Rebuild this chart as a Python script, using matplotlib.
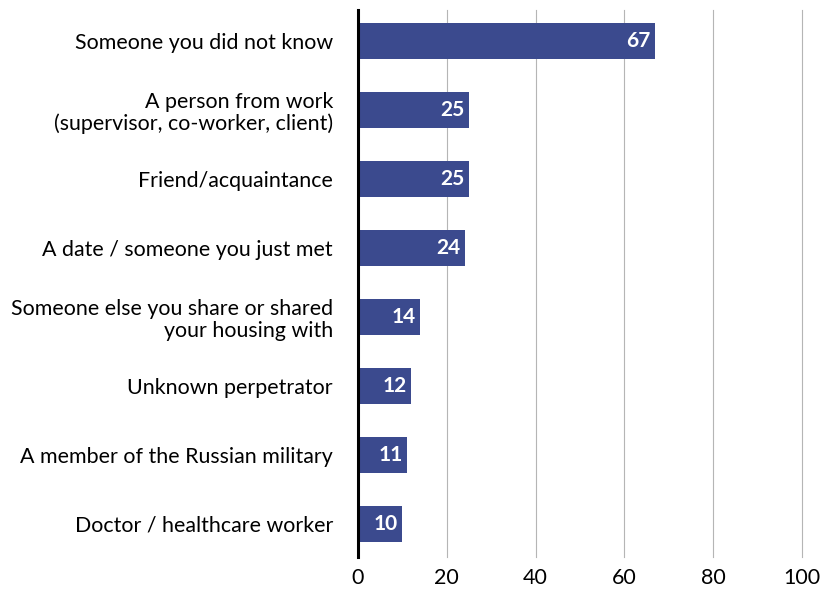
import numpy as np
import matplotlib.pyplot as plt

plt.rcParams['font.family'] = ['Lato', 'DejaVu Sans']

categories = [
    'Someone you did not know',
    'A person from work\n(supervisor, co-worker, client)',
    'Friend/acquaintance',
    'A date / someone you just met',
    'Someone else you share or shared\nyour housing with',
    'Unknown perpetrator',
    'A member of the Russian military',
    'Doctor / healthcare worker',
]
values = [67, 25, 25, 24, 14, 12, 11, 10]
x_ticks = [0, 20, 40, 60, 80, 100]

bar_color = '#3b4a8e'

fig = plt.figure(figsize=(8.22, 5.91), dpi=100)
ax = fig.add_axes([0.4355, 0.0575, 0.540, 0.9255])

y = np.arange(len(categories))
ax.barh(y, values, height=0.52, color=bar_color, zorder=3)

# value labels inside the bar ends
for yi, v in zip(y, values):
    ax.text(v - 1.0, yi, str(v), ha='right', va='center', color='white',
            fontsize=15, fontweight='bold', zorder=4)

ax.set_xlim(0, 100)
ax.set_ylim(7.48, -0.45)
ax.set_xticks(x_ticks)
ax.set_xticklabels([str(t) for t in x_ticks], fontsize=15.5)
ax.set_yticks(y)
ax.set_yticklabels(categories, fontsize=15.4, linespacing=1.1)
ax.tick_params(axis='both', length=0)
ax.tick_params(axis='y', pad=18)
ax.tick_params(axis='x', pad=8)

ax.grid(axis='x', color='#b5b5b5', linewidth=0.8, zorder=0)
for gl in ax.get_xgridlines():
    gl.set_clip_on(False)
for side in ['top', 'right', 'bottom']:
    ax.spines[side].set_visible(False)
ax.spines['left'].set_linewidth(2.2)
ax.spines['left'].set_color('black')
ax.spines['left'].set_zorder(5)

fig.savefig('out.png', dpi=100)
